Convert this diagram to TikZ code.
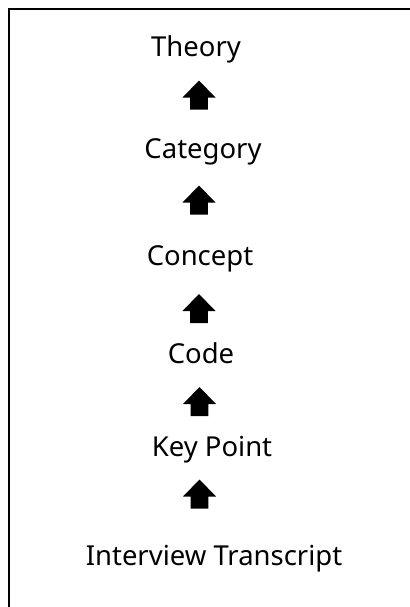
\documentclass[tikz,border=0pt]{standalone}
\usepackage{fontspec}
\setmainfont{Noto Sans}
\begin{document}
\begin{tikzpicture}[x=0.75pt,y=-0.75pt,
  label/.style={anchor=base,inner sep=0pt,font=\fontsize{20.6}{25}\selectfont},
  frame/.style={line width=1.3pt,black},
  blockup/.pic={\fill[black] (0,-14.5) -- (16.5,2.5) -- (8.8,2.5) -- (8.8,14.5)
      -- (-8.8,14.5) -- (-8.8,2.5) -- (-16.5,2.5) -- cycle;}]
\useasboundingbox (0,0) rectangle (410,607);
% open frame: only the left and top sides are visible
\coordinate (fbl) at (9,620);
\coordinate (ftl) at (9,9);
\coordinate (ftr) at (420,9);
\draw[frame] (fbl) -- (ftl) -- (ftr);
% levels, bottom to top
\node[label] (theory)   at (196,56)  {Theory};
\node[label] (category) at (203,158) {Category};
\node[label] (concept)  at (200,265) {Concept};
\node[label] (code)     at (201,363) {Code};
\node[label] (keypoint) at (212,456) {Key Point};
\node[label] (transcript) at (214,565) {Interview Transcript};
% block arrows pointing upwards
\pic at (199,95)    {blockup};
\pic at (199,200)   {blockup};
\pic at (199,308.5) {blockup};
\pic at (199.5,401.5) {blockup};
\pic at (199.5,494) {blockup};
\end{tikzpicture}
\end{document}
